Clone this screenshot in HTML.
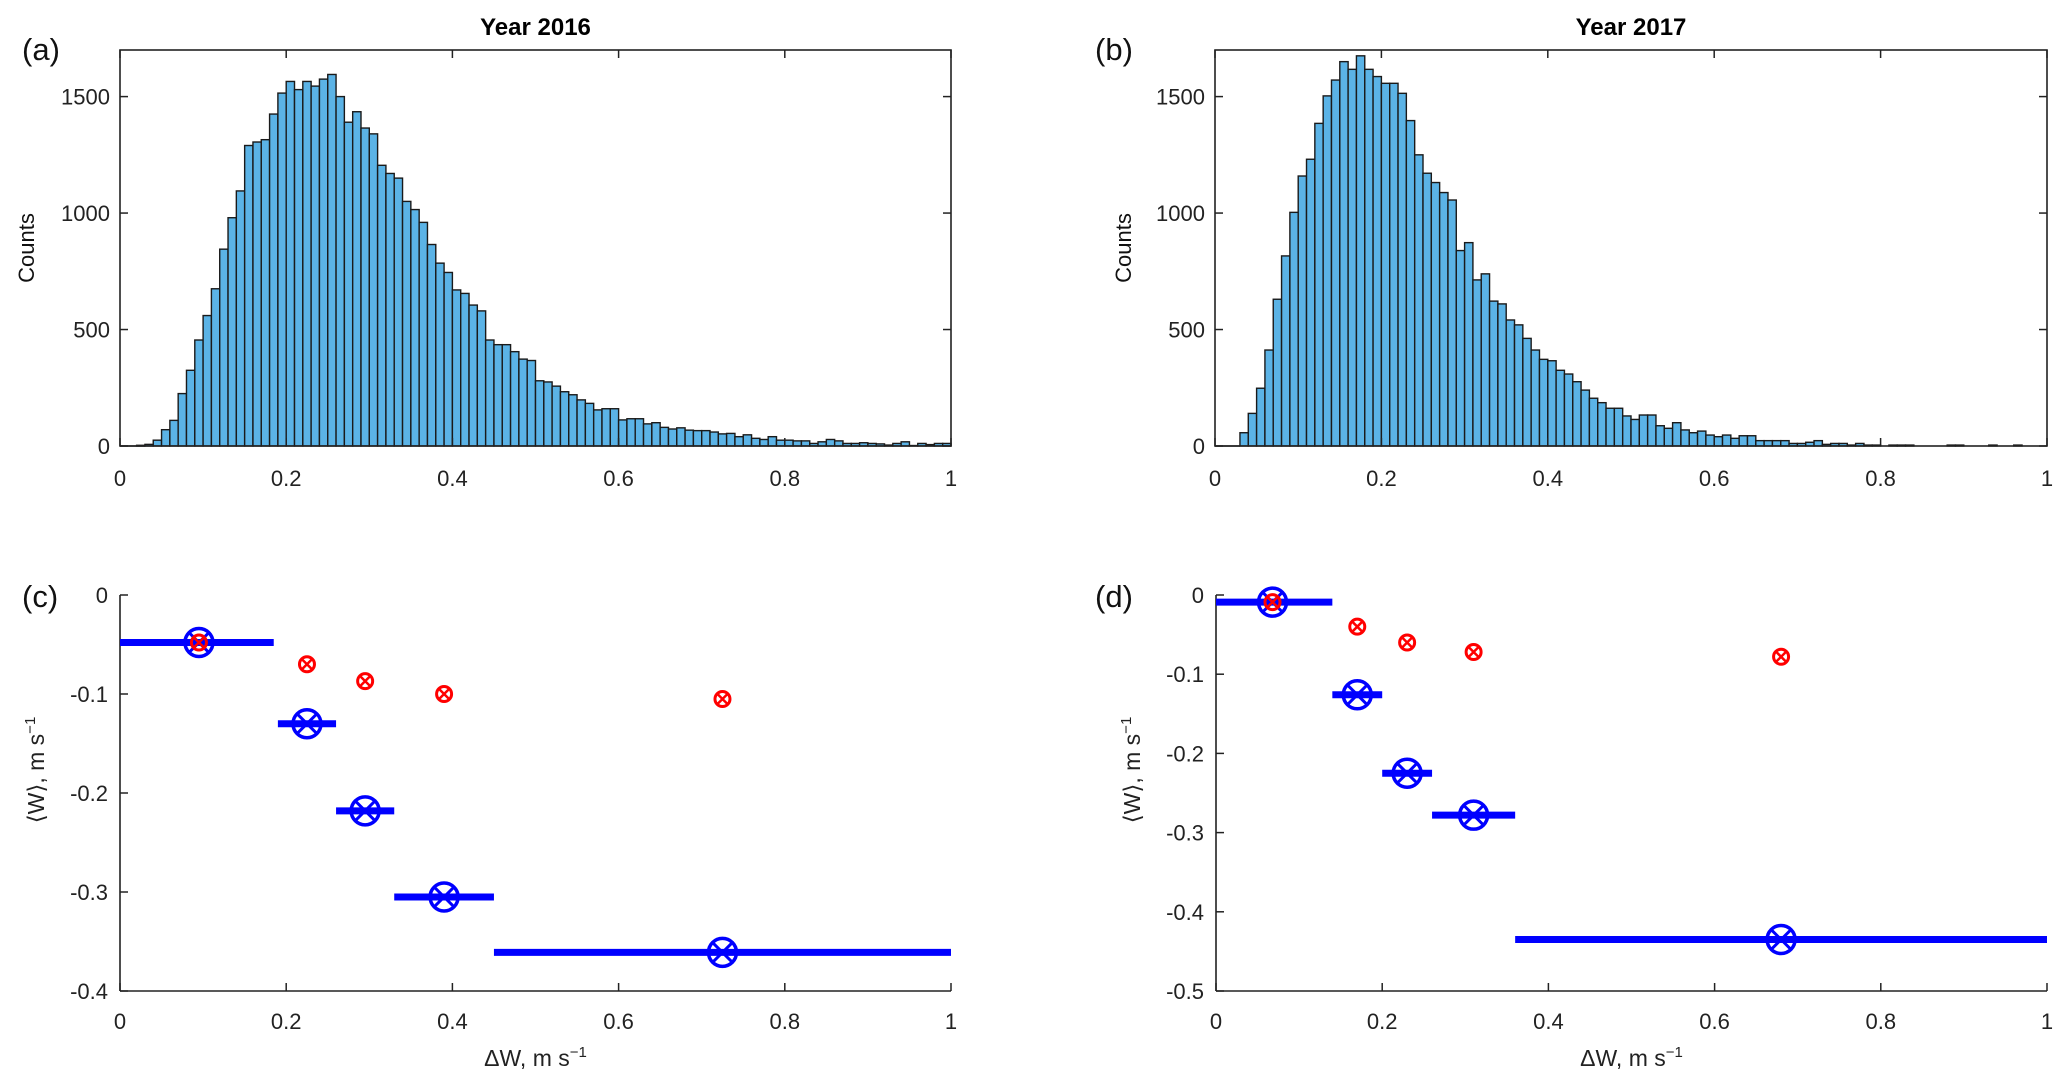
<!DOCTYPE html>
<html><head><meta charset="utf-8"><style>
html,body{margin:0;padding:0;background:#fff;}
svg{display:block;font-family:"Liberation Sans",sans-serif;}
</style></head><body>
<svg id="fig" width="2067" height="1091" viewBox="0 0 2067 1091" xmlns="http://www.w3.org/2000/svg"></svg>
<script>
const histBinWidth = 0.01;
const counts2016 = [0,0,3,7,25,70,110,225,325,455,560,675,845,980,1095,1290,1305,1315,1425,1515,1565,1530,1565,1545,1575,1595,1500,1390,1435,1365,1340,1205,1170,1150,1050,1015,960,865,785,745,670,655,605,580,455,435,435,405,373,367,280,275,257,233,220,198,183,155,160,160,112,117,117,95,100,80,73,78,68,66,66,60,52,54,40,48,33,28,40,25,25,22,22,11,18,28,22,11,11,14,11,9,4,11,18,2,11,6,11,11];
const counts2017 = [0,0,0,57,140,248,412,630,816,1003,1159,1231,1385,1503,1571,1650,1617,1675,1617,1586,1557,1557,1514,1397,1250,1171,1131,1088,1056,839,873,713,739,622,610,541,520,462,412,372,366,325,309,276,240,205,186,162,162,129,114,133,133,87,76,100,69,57,64,47,40,47,33,44,44,23,23,23,23,11,11,16,23,7,11,11,4,11,4,4,0,4,4,4,0,0,0,0,4,4,0,0,0,4,0,0,4,0,0,0];
const histYTicks = [0,500,1000,1500];
const xTicks = [0,0.2,0.4,0.6,0.8,1];
const xTickLabels = ["0","0.2","0.4","0.6","0.8","1"];
// panel c
const c_x = [0.095,0.225,0.295,0.39,0.725];
const c_blueY = [-0.048,-0.13,-0.218,-0.305,-0.361];
const c_lo = [0,0.19,0.26,0.33,0.45];
const c_hi = [0.185,0.26,0.33,0.45,1.0];
const c_redY = [-0.048,-0.07,-0.087,-0.1,-0.105];
const c_yTicks = [0,-0.1,-0.2,-0.3,-0.4];
const c_yTickLabels = ["0","-0.1","-0.2","-0.3","-0.4"];
// panel d
const d_x = [0.068,0.17,0.23,0.31,0.68];
const d_blueY = [-0.009,-0.126,-0.225,-0.278,-0.435];
const d_lo = [0,0.14,0.2,0.26,0.36];
const d_hi = [0.14,0.2,0.26,0.36,1.0];
const d_redY = [-0.009,-0.04,-0.06,-0.072,-0.078];
const d_yTicks = [0,-0.1,-0.2,-0.3,-0.4,-0.5];
const d_yTickLabels = ["0","-0.1","-0.2","-0.3","-0.4","-0.5"];

const NS="http://www.w3.org/2000/svg";
const svg=document.getElementById('fig');
function mk(tag,attrs,parent){const e=document.createElementNS(NS,tag);for(const k in attrs)e.setAttribute(k,attrs[k]);(parent||svg).appendChild(e);return e;}
function txt(s,attrs,parent){const t=mk('text',attrs,parent);t.textContent=s;return t;}

function histPanel(px,title,label,counts,name){
  const L=px.L,R=px.R,T=50,B=446,ymax=1700;
  const g=mk('g',{});
  
  
  const sx=v=>L+(R-L)*v, sy=v=>B-(B-T)*v/ymax;
  counts.forEach((c,i)=>{
    if(c<=0) return;
    const r=mk('rect',{x:sx(i*histBinWidth),y:sy(c),width:sx(histBinWidth)-sx(0),height:B-sy(c),fill:'#5BB3E6',stroke:'#1a1a1a','stroke-width':1.4},g);
    
    
  });
  mk('line',{x1:L,y1:B,x2:L+(R-L)*0.03,y2:B,stroke:'#222','stroke-width':1.4},g);
  const box=mk('rect',{x:L,y:T,width:R-L,height:B-T,fill:'none',stroke:'#222','stroke-width':1.6},g);
  
  
  xTicks.forEach((v,i)=>{
    mk('line',{x1:sx(v),y1:B,x2:sx(v),y2:B-8,stroke:'#222','stroke-width':1.5},g);
    mk('line',{x1:sx(v),y1:T,x2:sx(v),y2:T+8,stroke:'#222','stroke-width':1.5},g);
    const t=txt(xTickLabels[i],{x:sx(v),y:486,'font-size':22,'text-anchor':'middle',fill:'#222'},g);
    
    
  });
  histYTicks.forEach(v=>{
    mk('line',{x1:L,y1:sy(v),x2:L+8,y2:sy(v),stroke:'#222','stroke-width':1.5},g);
    mk('line',{x1:R,y1:sy(v),x2:R-8,y2:sy(v),stroke:'#222','stroke-width':1.5},g);
    const t=txt(String(v),{x:L-10,y:sy(v)+8,'font-size':22,'text-anchor':'end',fill:'#222'},g);
    
    
  });
  const tt=txt(title,{x:(L+R)/2,y:35,'font-size':24,'font-weight':'bold','text-anchor':'middle',fill:'#000'},g);
  
  
  const pl=txt(label,{x:px.lab,y:60,'font-size':31,fill:'#111'},g);
  
  
  const yl=txt('Counts',{x:0,y:0,'font-size':22,'text-anchor':'middle',fill:'#111',transform:`translate(${px.ylab},248) rotate(-90)`},g);
  
  
}

function scatterPanel(px,label,xs,by,lo,hi,ry,yt,ytl,ymin,name){
  const L=px.L,R=px.R,T=595,B=991;
  const g=mk('g',{});
  
  
  const sx=v=>L+(R-L)*v, sy=v=>T+(B-T)*(v/ymin);
  mk('line',{x1:L,y1:T,x2:L,y2:B,stroke:'#222','stroke-width':1.6},g);
  mk('line',{x1:L,y1:B,x2:R,y2:B,stroke:'#222','stroke-width':1.6},g);
  xTicks.forEach((v,i)=>{
    mk('line',{x1:sx(v),y1:B,x2:sx(v),y2:B-8,stroke:'#222','stroke-width':1.5},g);
    const t=txt(xTickLabels[i],{x:sx(v),y:1029,'font-size':22,'text-anchor':'middle',fill:'#222'},g);
    
    
  });
  yt.forEach((v,i)=>{
    mk('line',{x1:L,y1:sy(v),x2:L+8,y2:sy(v),stroke:'#222','stroke-width':1.5},g);
    const t=txt(ytl[i],{x:L-12,y:sy(v)+8,'font-size':22,'text-anchor':'end',fill:'#222'},g);
    
    
  });
  xs.forEach((x,i)=>{
    const e=mk('line',{x1:sx(lo[i]),y1:sy(by[i]),x2:sx(hi[i]),y2:sy(by[i]),stroke:'#0000FF','stroke-width':7},g);
    
    
    const cx=sx(x),cy=sy(by[i]);
    const c=mk('g',{},g);
    
    
    mk('circle',{cx:cx,cy:cy,r:14,fill:'none',stroke:'#0000FF','stroke-width':3.5},c);
    mk('path',{d:`M${cx-10} ${cy-10}L${cx+10} ${cy+10}M${cx-10} ${cy+10}L${cx+10} ${cy-10}`,stroke:'#0000FF','stroke-width':3},c);
  });
  xs.forEach((x,i)=>{
    const cx=sx(x),cy=sy(ry[i]);
    const c=mk('g',{},g);
    
    
    mk('circle',{cx:cx,cy:cy,r:7.5,fill:'none',stroke:'#FF0000','stroke-width':3},c);
    mk('path',{d:`M${cx-5} ${cy-5}L${cx+5} ${cy+5}M${cx-5} ${cy+5}L${cx+5} ${cy-5}`,stroke:'#FF0000','stroke-width':2.5},c);
  });
  const pl=txt(label,{x:px.lab,y:607,'font-size':31,fill:'#111'},g);
  
  
  const xl=txt('',{x:(L+R)/2,y:1066,'font-size':23,'text-anchor':'middle',fill:'#222'},g);
  xl.innerHTML='ΔW, m s<tspan dy="-9" font-size="15">−1</tspan>';
  
  
  const yl=txt('',{x:0,y:0,'font-size':23,'text-anchor':'middle',fill:'#222',transform:`translate(${px.ylab},770) rotate(-90)`},g);
  yl.innerHTML='⟨W⟩, m s<tspan dy="-9" font-size="15">−1</tspan>';
  
  
}

histPanel({L:120,R:951,lab:22,ylab:34},'Year 2016','(a)',counts2016,'histogram-2016');
histPanel({L:1215,R:2047,lab:1095,ylab:1131},'Year 2017','(b)',counts2017,'histogram-2017');
scatterPanel({L:120,R:951,lab:22,ylab:44},'(c)',c_x,c_blueY,c_lo,c_hi,c_redY,c_yTicks,c_yTickLabels,-0.4,'scatter-2016');
scatterPanel({L:1216,R:2047,lab:1095,ylab:1140},'(d)',d_x,d_blueY,d_lo,d_hi,d_redY,d_yTicks,d_yTickLabels,-0.5,'scatter-2017');
</script>
</body></html>
